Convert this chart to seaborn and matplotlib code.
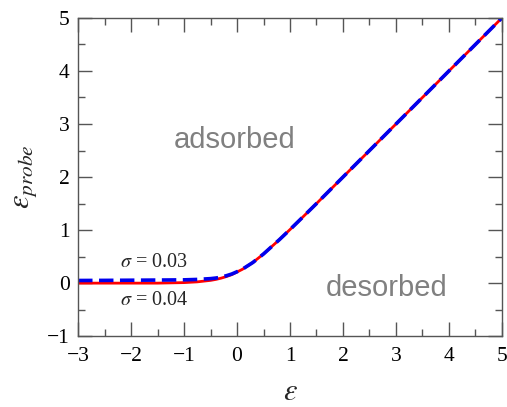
import numpy as np
import pandas as pd
import seaborn as sns
import matplotlib
matplotlib.use("Agg")
import matplotlib.pyplot as plt
from matplotlib.ticker import MultipleLocator

# Bare site energy and the resulting probe energy for two disorder widths
eps = [-3.0, -2.5, -2.0, -1.5, -1.0, -0.75, -0.5, -0.4, -0.3, -0.2, -0.1,
       0.0, 0.1, 0.2, 0.3, 0.4, 0.5, 0.6, 0.8, 1.0, 1.2, 1.5, 2.0, 3.0, 4.0, 5.0]
probe_s004 = [0.00, 0.00, 0.00, 0.00, 0.01, 0.024, 0.052, 0.07, 0.094, 0.124, 0.16,
              0.21, 0.26, 0.325, 0.39, 0.47, 0.55, 0.64, 0.82, 1.01, 1.205, 1.50, 2.00, 3.00, 4.00, 5.00]
probe_s003 = [0.05, 0.052, 0.055, 0.058, 0.062, 0.07, 0.085, 0.096, 0.113, 0.14, 0.172,
              0.215, 0.262, 0.326, 0.39, 0.47, 0.55, 0.64, 0.82, 1.01, 1.205, 1.50, 2.00, 3.00, 4.00, 5.00]
x_ticks = [-3, -2, -1, 0, 1, 2, 3, 4, 5]
y_ticks = [-1, 0, 1, 2, 3, 4, 5]

sns.set_theme(style="ticks")
plt.rcParams["font.family"] = ["Liberation Serif", "DejaVu Serif"]
plt.rcParams["mathtext.fontset"] = "stix"

df = pd.DataFrame({"eps": eps + eps,
                   "probe": probe_s004 + probe_s003,
                   "sigma": ["0.04"] * len(eps) + ["0.03"] * len(eps)})

fig, ax = plt.subplots(figsize=(5.07, 4.07), dpi=100)
fig.subplots_adjust(left=0.154, right=0.990, top=0.956, bottom=0.174)

sns.lineplot(data=df[df.sigma == "0.04"], x="eps", y="probe", ax=ax,
             color="#ff0000", lw=2.0, legend=False)
sns.lineplot(data=df[df.sigma == "0.03"], x="eps", y="probe", ax=ax,
             color="#0000ee", lw=2.6, legend=False)
ax.lines[-1].set_linestyle((0, (4, 1.8)))

ax.set_xlim(-3, 5)
ax.set_ylim(-1, 5)
ax.set_xticks(x_ticks)
ax.set_xticklabels([str(v).replace("-", "\u2212") for v in x_ticks])
ax.set_yticks(y_ticks)
ax.set_yticklabels([str(v).replace("-", "\u2212") for v in y_ticks])
ax.xaxis.set_minor_locator(MultipleLocator(0.5))
ax.yaxis.set_minor_locator(MultipleLocator(0.5))

for side in ax.spines.values():
    side.set_visible(True)
    side.set_color("#555555")
    side.set_linewidth(1.0)
ax.tick_params(which="both", direction="in", top=True, right=True,
               bottom=True, left=True, color="#555555",
               labelsize=15.5, labelcolor="black")
ax.tick_params(which="major", length=10, width=1.0)
ax.tick_params(which="minor", length=5, width=1.0)
ax.tick_params(axis="x", which="major", pad=8)
ax.tick_params(axis="y", which="major", pad=6)

ax.set_xlabel(r"$\varepsilon$", fontsize=22)
ax.xaxis.label.set_va("center")
ax.xaxis.set_label_coords(0.5, -0.176)
ax.set_ylabel(r"$\varepsilon_{probe}$", fontsize=22, labelpad=6)

ax.text(-0.04, 2.7, "adsorbed", fontsize=21, color="#808080",
        family="Liberation Sans", ha="center", va="center")
ax.text(2.83, -0.1, "desorbed", fontsize=21, color="#808080",
        family="Liberation Sans", ha="center", va="center")
ax.text(-1.57, 0.38, r"$\sigma$ = 0.03", fontsize=14.5, ha="center", va="center")
ax.text(-1.57, -0.32, r"$\sigma$ = 0.04", fontsize=14.5, ha="center", va="center")

fig.savefig("out.png", dpi=100, facecolor="white")
